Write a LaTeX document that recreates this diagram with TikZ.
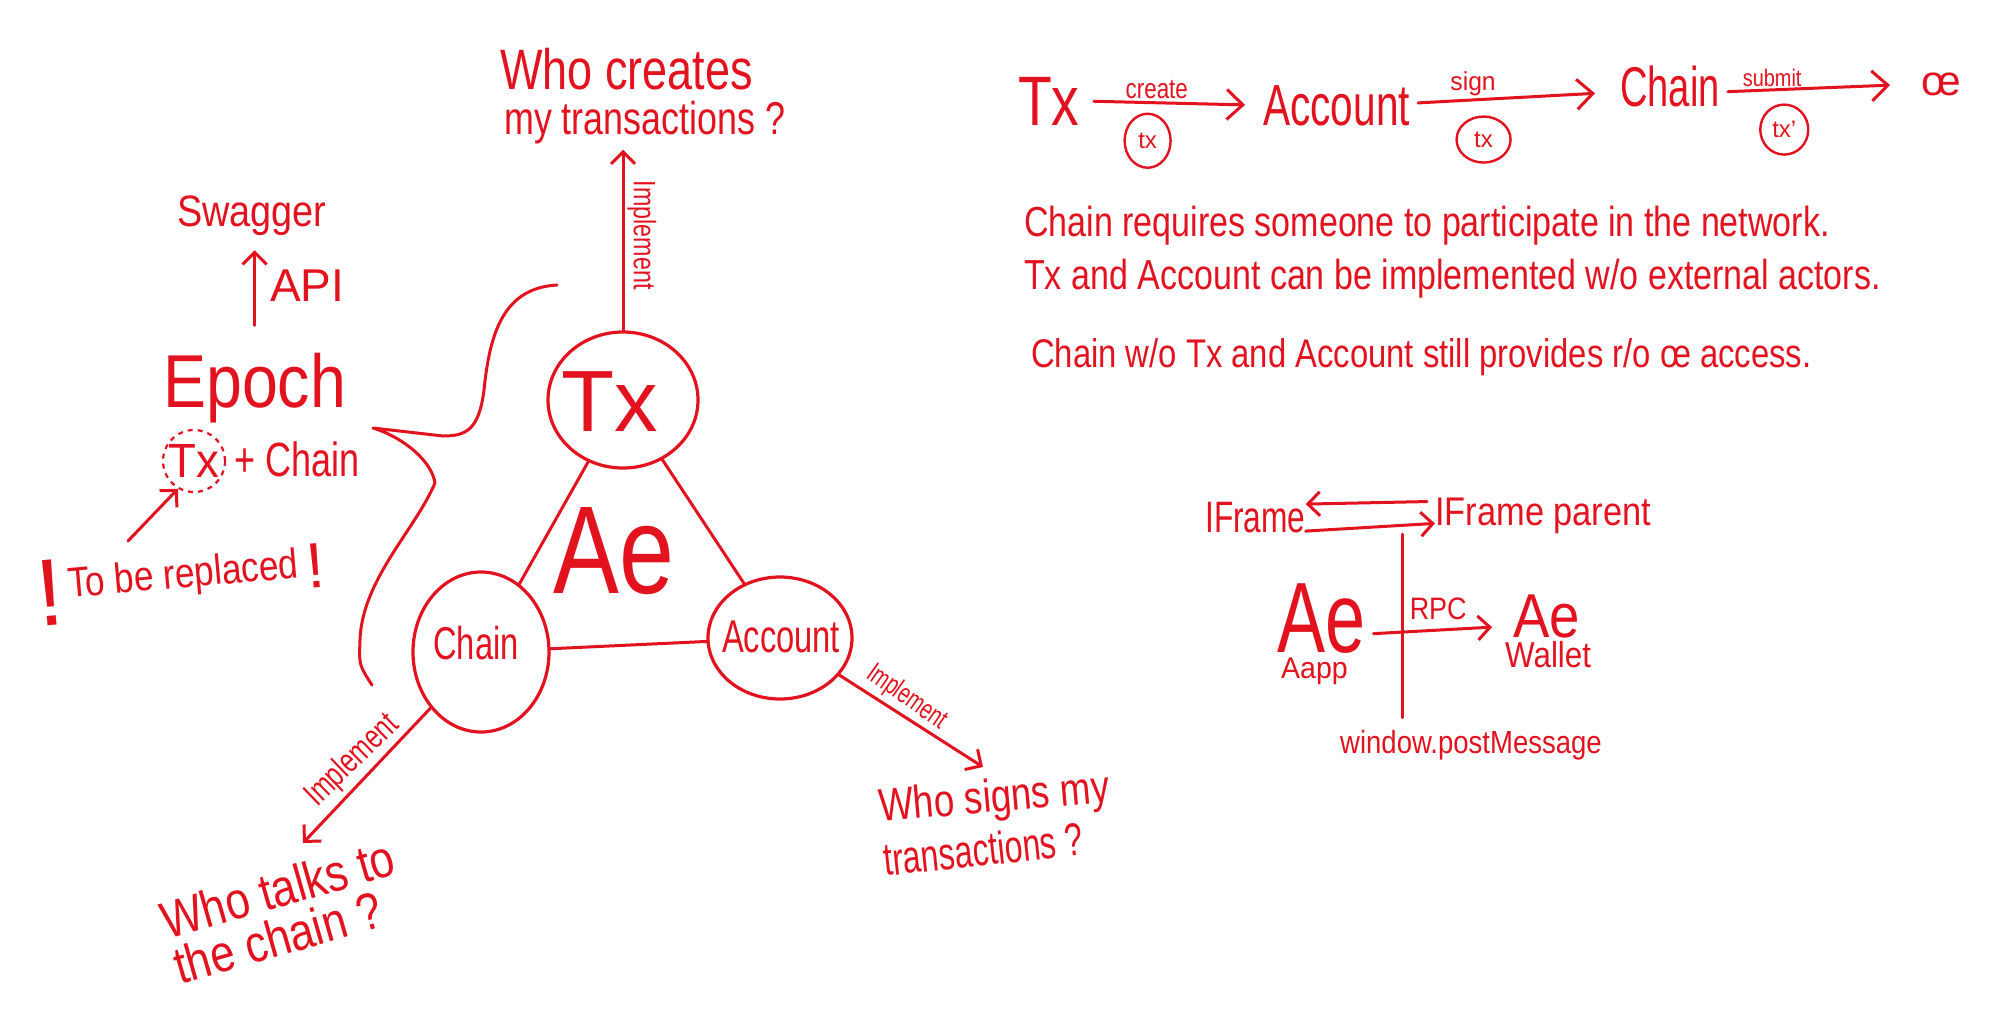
\documentclass[tikz,border=0pt]{standalone}
\usepackage{fontspec}
\setmainfont{Liberation Sans}
\usetikzlibrary{arrows.meta,shapes.geometric}
\definecolor{marker}{RGB}{226,18,30}
\newcommand\hw[2]{{\addfontfeatures{FakeStretch=#1}#2}}
\newcommand\fsz[1]{\fontsize{#1}{#1}\selectfont}
\begin{document}
\begin{tikzpicture}[x=1pt,y=-1pt,
  txt/.style={inner sep=0pt, text=marker},
  ring/.style={draw=marker, line width=3.2pt, ellipse, inner sep=0pt},
  tag/.style={draw=marker, text=marker, ellipse, line width=2.4pt, inner sep=0pt, font=\fsz{24}},
  link/.style={draw=marker, line width=3pt, line cap=round, line join=round},
  arr/.style={link, -{Straight Barb[length=12pt,width=24pt]}},
  arrbig/.style={link, -{Straight Barb[length=16pt,width=30pt]}},
]
\fill[white] (0,0) rectangle (2000,1021);
\useasboundingbox (0,0) rectangle (2000,1021);

% ---------- triangle ----------
\node[ring, minimum width=150pt, minimum height=136pt] (tx) at (623,400) {};
\node[ring, minimum width=136pt, minimum height=160pt] (chain) at (481,652) {};
\node[ring, minimum width=144pt, minimum height=122pt] (account) at (780,638) {};
\node[txt, font=\fsz{87}] (txlbl) at (610,402) {Tx};
\node[txt, font=\fsz{46}] (chainlbl) at (476,643) {\hw{0.71}{Chain}};
\node[txt, font=\fsz{46}] (acclbl) at (781,637) {\hw{0.71}{Account}};
\node[txt, font=\fsz{125}, anchor=base west] (ae) at (553,593) {\hw{0.79}{Ae}};
\draw[link] (tx) -- (chain);
\draw[link] (tx) -- (account);
\draw[link] (chain) -- (account);

% top question
\node[txt, font=\fsz{57}, anchor=base west] (qcA) at (500,89) {\hw{0.79}{Who creates}};
\node[txt, font=\fsz{46}, anchor=base west] (qcB) at (504,134) {\hw{0.78}{my transactions ?}};
\draw[arr, shorten >=6pt] (tx.north) -- (tx.north |- qcB.south)
  node[txt, inner sep=3pt, pos=0.51, rotate=-90, anchor=south, font=\fsz{31}] {\hw{0.75}{Implement}};

% bottom-left question
\coordinate (cw) at (303,843);
\draw[arr] (chain.228) -- (cw)
  node[txt, inner sep=3pt, pos=0.5, rotate=44, anchor=south, font=\fsz{34}] {\hw{0.73}{Implement}};
\node[txt, font=\fsz{52}, rotate=16, anchor=base west] (qtA) at (167,940) {\hw{0.84}{Who talks to}};
\node[txt, font=\fsz{52}, rotate=16, anchor=base west] (qtB) at (180,985) {\hw{0.84}{the chain ?}};

% bottom-right question
\coordinate (aw) at (983,767);
\draw[arr] (account.-32) -- (aw)
  node[txt, inner sep=3pt, pos=0.4, rotate=-35, anchor=south, font=\fsz{28}] {\hw{0.7}{Implement}};
\node[txt, font=\fsz{46}, rotate=5, anchor=base west] (qsA) at (880,822) {\hw{0.8}{Who signs my}};
\node[txt, font=\fsz{46}, rotate=6, anchor=base west] (qsB) at (885,876) {\hw{0.7}{transactions ?}};

% brace
\draw[link, line width=3pt] (557,285) .. controls (505,288) and (490,330) .. (484,390)
  .. controls (479,430) and (466,436) .. (443,436) -- (373,428)
  .. controls (405,438) and (432,462) .. (435,483)
  .. controls (415,530) and (362,580) .. (360,640)
  .. controls (359,665) .. (372,685);

% ---------- left column ----------
\node[txt, font=\fsz{44}, anchor=base west] (swagger) at (177,226) {\hw{0.86}{Swagger}};
\node[txt, font=\fsz{75}, anchor=base west] (epoch) at (163,407) {\hw{0.86}{Epoch}};
\draw[arr, shorten <=27pt, shorten >=15pt] (epoch.north) -- (epoch.north |- swagger.south)
  node[txt, midway, anchor=west, xshift=14pt, yshift=8pt, font=\fsz{46}] {API};
\node[txt, draw=marker, circle, line width=2.2pt, dash pattern=on 5pt off 5pt, minimum size=62pt, font=\fsz{48}] (txold) at (194,461) {\hw{0.95}{Tx}};
\node[txt, font=\fsz{48}, anchor=base west] (plus) at (234,476) {\hw{0.75}{+ Chain}};
\node[txt, font=\fsz{42}, rotate=5, anchor=base] (repl) at (181,588)
  {\raisebox{-26pt}{\fsz{95}!}\hspace{6pt}\hw{0.84}{To be replaced}\hspace{8pt}\raisebox{-12pt}{\fsz{64}!}};
\coordinate (rtip) at (128,541);
\draw[arr] (rtip) -- (txold.240);

% ---------- right: flow row ----------
\node[txt, font=\fsz{70}, anchor=base west] (rtx) at (1018,125) {\hw{0.79}{Tx}};
\node[txt, font=\fsz{58}, anchor=base west] (racc) at (1263,125) {\hw{0.7}{Account}};
\node[txt, font=\fsz{56}, anchor=base west] (rchain) at (1620,106) {\hw{0.68}{Chain}};
\node[txt, font=\fsz{42}, anchor=base west] (rae) at (1921,95) {œ};
\draw[arrbig, shorten <=14pt, shorten >=18pt] (rtx.east) -- (racc.west)
  node[txt, pos=0.42, above=3pt, font=\fsz{28}] {\hw{0.8}{create}}
  node[tag, pos=0.37, below=10pt, minimum width=46pt, minimum height=54pt] {tx};
\draw[arrbig, shorten <=8pt, shorten >=25pt] ([yshift=2pt]racc.east) -- ([yshift=-6pt]rchain.west)
  node[txt, pos=0.3, above=3pt, font=\fsz{26}] {\hw{0.95}{sign}}
  node[tag, pos=0.35, below=16pt, minimum width=54pt, minimum height=46pt] {tx};
\draw[arrbig, shorten <=8pt, shorten >=31pt] ([yshift=-6pt]rchain.east) -- (rae.west)
  node[txt, pos=0.26, above=2pt, font=\fsz{24}] {\hw{0.83}{submit}}
  node[tag, pos=0.32, below=14pt, minimum width=48pt, minimum height=50pt] {tx'};

% ---------- right: notes ----------
\node[txt, font=\fsz{42}, anchor=base west] (l1) at (1024,236) {\hw{0.81}{Chain requires someone to participate in the network.}};
\node[txt, font=\fsz{42}, anchor=base west] (l2) at (1024,289) {\hw{0.81}{Tx and Account can be implemented w/o external actors.}};
\node[txt, font=\fsz{40}, anchor=base west] (l3) at (1031,367) {\hw{0.82}{Chain w/o Tx and Account still provides r/o œ access.}};

% ---------- right: iframe diagram ----------
\node[txt, font=\fsz{44}, anchor=base west] (iframe) at (1205,532) {\hw{0.72}{IFrame}};
\node[txt, font=\fsz{40}, anchor=base west] (ifparent) at (1435,525) {\hw{0.86}{IFrame parent}};
\draw[arr, shorten <=8pt] ([yshift=14pt]ifparent.west) -- ([yshift=13pt]iframe.east);
\draw[arr] ([yshift=-14pt]iframe.east) -- ([yshift=-8pt]ifparent.west);
\coordinate (ifmid) at (1402,534);
\node[txt, font=\fsz{32}, anchor=base west] (wpm) at (1340,753) {\hw{0.86}{window.postMessage}};
\draw[link, shorten >=12pt] (ifmid) -- (ifmid |- wpm.north);
\node[txt, font=\fsz{100}, anchor=base west] (aeapp) at (1277,652) {\hw{0.72}{Ae}};
\node[txt, font=\fsz{30}, anchor=base west] (aapp) at (1281,678) {\hw{0.95}{Aapp}};
\node[txt, font=\fsz{62}, anchor=base west] (aewallet) at (1513,637) {\hw{0.88}{Ae}};
\node[txt, font=\fsz{36}, anchor=base west] (wallet) at (1505,667) {\hw{0.87}{Wallet}};
\draw[arr, shorten <=8pt, shorten >=21pt] ([yshift=-16pt]aeapp.east) -- ([yshift=-10pt]aewallet.west)
  node[txt, pos=0.29, anchor=south west, yshift=10pt, font=\fsz{31}] {\hw{0.87}{RPC}};
\end{tikzpicture}
\end{document}
